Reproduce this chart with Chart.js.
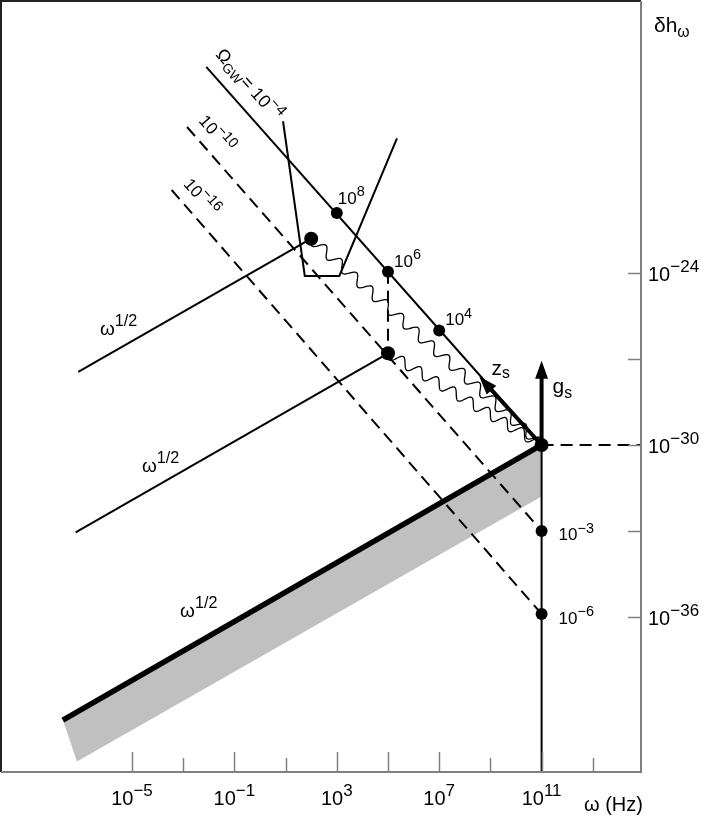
<!DOCTYPE html>
<html>
<head>
<meta charset="utf-8">
<script src="https://cdn.jsdelivr.net/npm/chart.js@4.4.1/dist/chart.umd.min.js"></script>
<style>
  html, body { margin: 0; padding: 0; background: #fff; }
  canvas { display: block; }
</style>
</head>
<body>
<canvas id="gwChart" width="708" height="817"></canvas>
<script>
// everything is in log10 units: x = log10(omega / Hz), y = log10(delta h)
const xTickVals = [-5, -3, -1, 1, 3, 5, 7, 9, 11, 13];
const xTickMajor = [true, false, true, false, true, true, true, false, true, false];
const xLabelVals = [-5, -1, 3, 7, 11];
const yTickVals = [-24, -27, -30, -33, -36];
const yLabelVals = [-24, -30, -36];

// Omega_GW = const lines
const gw4X = [-2.1, 11], gw4Y = [-16.8, -30];
const gw10X = [-2.85, 11], gw10Y = [-18.9, -33];
const gw16X = [-3.45, 11], gw16Y = [-21.1, -35.9];

// omega^1/2 branches
const halfUpX = [-7.1, 2.0], halfUpY = [-27.45, -22.8];
const halfLowX = [-7.2, 5.0], halfLowY = [-33.05, -26.8];
const halfThickX = [-7.7, 11], halfThickY = [-39.6, -30];
const bandX = [-7.7, 11, 11, -7.15], bandY = [-39.6, -30, -31.8, -41.05];

// detector sensitivity curve
const detX = [0.9, 1.75, 3.1, 5.35], detY = [-18.7, -24.1, -24.1, -19.3];

// marked points
const lineDotX = [3, 5, 7], lineDotY = [-21.9, -23.95, -26.0], lineDotExp = ['8', '6', '4'];
const axisDotX = [11, 11], axisDotY = [-33, -35.9], axisDotExp = ['\u22123', '\u22126'];
const bigDotX = [2.0, 5.0, 11], bigDotY = [-22.8, -26.8, -30];
const zsTip = [8.57, -27.62];
const gsTip = [11, -27.06];

const FONT = '"Liberation Sans", Arial, sans-serif';

function pts(xs, ys) {
  return xs.map((x, i) => ({ x: x, y: ys[i] }));
}

function lineSet(xs, ys, width, dash, order) {
  return {
    data: pts(xs, ys),
    borderColor: '#000',
    borderWidth: width,
    borderDash: dash || [],
    pointRadius: 0,
    fill: false,
    order: order || 5
  };
}

// text with superscript / subscript parts
function rich(ctx, x, y, parts, size, align, subDrop) {
  const fontOf = k => (k === 'n' ? size : k === 'sup' ? size * 0.85 : size * 0.75) + 'px ' + FONT;
  const widths = parts.map(p => {
    ctx.font = fontOf(p[1]);
    return ctx.measureText(p[0]).width;
  });
  const total = widths.reduce((a, b) => a + b, 0);
  let cx = x;
  if (align === 'center') cx = x - total / 2;
  if (align === 'right') cx = x - total;
  ctx.textAlign = 'left';
  ctx.textBaseline = 'alphabetic';
  parts.forEach((p, i) => {
    ctx.font = fontOf(p[1]);
    let dy = 0;
    if (p[1] === 'sup') dy = -size * 0.45;
    if (p[1] === 'sub') dy = subDrop !== undefined ? subDrop : size * 0.2;
    ctx.fillText(p[0], cx, y + dy);
    cx += widths[i];
  });
}

function expLabel(n) {
  return [['10', 'n'], [String(n).replace('-', '\u2212'), 'sup']];
}

const extras = {
  id: 'extras',
  afterDatasetsDraw(chart) {
    const ctx = chart.ctx;
    const xs = chart.scales.x, ys = chart.scales.y;
    const P = (x, y) => [xs.getPixelForValue(x), ys.getPixelForValue(y)];
    const area = chart.chartArea;

    ctx.save();
    // wavy lines into the big point
    ctx.strokeStyle = '#000';
    ctx.lineWidth = 1.3;
    [0, 1].forEach(i => {
      const a = P(bigDotX[i], bigDotY[i]);
      const b = P(bigDotX[2], bigDotY[2]);
      const dx = b[0] - a[0], dy = b[1] - a[1];
      const len = Math.hypot(dx, dy);
      const nx = -dy / len, ny = dx / len;
      const waves = Math.round(len / 21);
      ctx.beginPath();
      for (let s = 0; s <= 500; s++) {
        const t = s / 500;
        const off = 5 * Math.sin(2 * Math.PI * waves * t);
        const px = a[0] + dx * t + nx * off, py = a[1] + dy * t + ny * off;
        if (s === 0) ctx.moveTo(px, py); else ctx.lineTo(px, py);
      }
      ctx.stroke();
    });

    // arrows z_s and g_s
    [zsTip, gsTip].forEach(tip => {
      const a = P(bigDotX[2], bigDotY[2]);
      const b = P(tip[0], tip[1]);
      const ang = Math.atan2(b[1] - a[1], b[0] - a[0]);
      const hl = 18, hw = 6.5;
      const bx = b[0] - Math.cos(ang) * hl, by = b[1] - Math.sin(ang) * hl;
      ctx.lineWidth = 4;
      ctx.beginPath();
      ctx.moveTo(a[0], a[1]);
      ctx.lineTo(bx + Math.cos(ang) * 2, by + Math.sin(ang) * 2);
      ctx.stroke();
      ctx.fillStyle = '#000';
      ctx.beginPath();
      ctx.moveTo(b[0], b[1]);
      ctx.lineTo(bx - Math.sin(ang) * hw, by + Math.cos(ang) * hw);
      ctx.lineTo(bx + Math.sin(ang) * hw, by - Math.cos(ang) * hw);
      ctx.closePath();
      ctx.fill();
    });

    // frame
    ctx.lineWidth = 2;
    ctx.strokeStyle = '#222';
    ctx.beginPath();
    ctx.moveTo(area.left, area.bottom);
    ctx.lineTo(area.left, area.top);
    ctx.lineTo(area.right, area.top);
    ctx.stroke();
    ctx.strokeStyle = '#808080';
    ctx.beginPath();
    ctx.moveTo(area.left, area.bottom);
    ctx.lineTo(area.right, area.bottom);
    ctx.lineTo(area.right, area.top);
    ctx.stroke();

    // ticks (inside)
    ctx.lineWidth = 1.5;
    xTickVals.forEach((v, i) => {
      const px = Math.round(xs.getPixelForValue(v)) + 0.5;
      ctx.beginPath();
      ctx.moveTo(px, area.bottom);
      ctx.lineTo(px, area.bottom - (xTickMajor[i] ? 20 : 14));
      ctx.stroke();
    });
    yTickVals.forEach(v => {
      const py = Math.round(ys.getPixelForValue(v)) + 0.5;
      ctx.beginPath();
      ctx.moveTo(area.right, py);
      ctx.lineTo(area.right - 13, py);
      ctx.stroke();
    });

    ctx.fillStyle = '#000';
    xLabelVals.forEach(v => {
      rich(ctx, xs.getPixelForValue(v), area.bottom + 33, expLabel(v), 20, 'center');
    });
    yLabelVals.forEach(v => {
      rich(ctx, area.right + 7, ys.getPixelForValue(v) + 8, expLabel(v), 20, 'left');
    });

    // axis titles
    rich(ctx, 654, 32, [['\u03b4h', 'n'], ['\u03c9', 'sub']], 21, 'left', 5);
    rich(ctx, 584, 811, [['\u03c9 (Hz)', 'n']], 20, 'left');

    // point labels
    lineDotX.forEach((x, i) => {
      const p = P(x, lineDotY[i]);
      const off = i === 0 ? [1, -9] : [6, -5];
      rich(ctx, p[0] + off[0], p[1] + off[1], [['10', 'n'], [lineDotExp[i], 'sup']], 17, 'left');
    });
    axisDotX.forEach((x, i) => {
      const p = P(x, axisDotY[i]);
      rich(ctx, p[0] + 17, p[1] + 9.5, [['10', 'n'], [axisDotExp[i], 'sup']], 17, 'left');
    });

    // omega^1/2 labels
    const half = [['\u03c9', 'n'], ['1/2', 'sup']];
    [[-6.25, -26.16], [-4.61, -30.94], [-3.12, -36.0]].forEach(q => {
      const p = P(q[0], q[1]);
      rich(ctx, p[0], p[1], half, 19, 'left');
    });

    // z_s, g_s
    let p = P(zsTip[0], zsTip[1]);
    rich(ctx, p[0] + 12, p[1] - 2, [['z', 'n'], ['s', 'sub']], 21, 'left', 3);
    p = P(gsTip[0], gsTip[1]);
    rich(ctx, p[0] + 11, p[1] + 32, [['g', 'n'], ['s', 'sub']], 21, 'left', 5);

    // rotated labels along the Omega_GW lines
    const along = [
      [gw4X, gw4Y, -3, 14.5, [['\u03a9', 'n'], ['GW', 'sub'], ['= 10', 'n'], ['\u22124', 'sup']], 18],
      [gw10X, gw10Y, 3, 12, [['10', 'n'], ['\u221210', 'sup']], 17],
      [gw16X, gw16Y, 3, 12, [['10', 'n'], ['\u221216', 'sup']], 17]
    ];
    along.forEach(a => {
      const s = P(a[0][0], a[1][0]);
      const e = P(a[0][1], a[1][1]);
      const ang = Math.atan2(e[1] - s[1], e[0] - s[0]);
      ctx.save();
      ctx.translate(s[0], s[1]);
      ctx.rotate(ang);
      rich(ctx, a[2], -a[3], a[4], a[5], 'left', 4);
      ctx.restore();
    });
    ctx.restore();
  }
};

const ctx = document.getElementById('gwChart').getContext('2d');
const gwChart = new Chart(ctx, {
  type: 'line',
  data: {
    datasets: [
      {
        data: pts(bandX, bandY),
        borderWidth: 0,
        borderColor: 'rgba(0,0,0,0)',
        backgroundColor: '#c0c0c0',
        pointRadius: 0,
        fill: 'shape',
        order: 20
      },
      lineSet(halfThickX, halfThickY, 5.5),
      lineSet(halfUpX, halfUpY, 2),
      lineSet(halfLowX, halfLowY, 2),
      lineSet(gw4X, gw4Y, 2),
      lineSet(gw10X, gw10Y, 2, [12, 7]),
      lineSet(gw16X, gw16Y, 2, [12, 7]),
      lineSet(detX, detY, 2),
      lineSet([5, 5], [lineDotY[1], bigDotY[1]], 2, [12, 7]),
      lineSet([11, 11], [-30, -42], 2),
      lineSet([11, 15], [-30, -30], 2, [12, 7]),
      {
        data: pts(lineDotX.concat(axisDotX), lineDotY.concat(axisDotY)),
        showLine: false,
        pointRadius: 6,
        pointBorderWidth: 0,
        pointBackgroundColor: '#000',
        order: 1
      },
      {
        data: pts(bigDotX, bigDotY),
        showLine: false,
        pointRadius: 7,
        pointBorderWidth: 0,
        pointBackgroundColor: '#000',
        order: 0
      }
    ]
  },
  options: {
    responsive: false,
    animation: false,
    layout: {
      autoPadding: false,
      padding: { left: 1, top: 1, right: 67, bottom: 45 }
    },
    scales: {
      x: { type: 'linear', display: false, min: -10.117, max: 14.883 },
      y: { type: 'linear', display: false, min: -41.414, max: -14.503 }
    },
    plugins: {
      legend: { display: false },
      tooltip: { enabled: false }
    }
  },
  plugins: [extras]
});
</script>
</body>
</html>
